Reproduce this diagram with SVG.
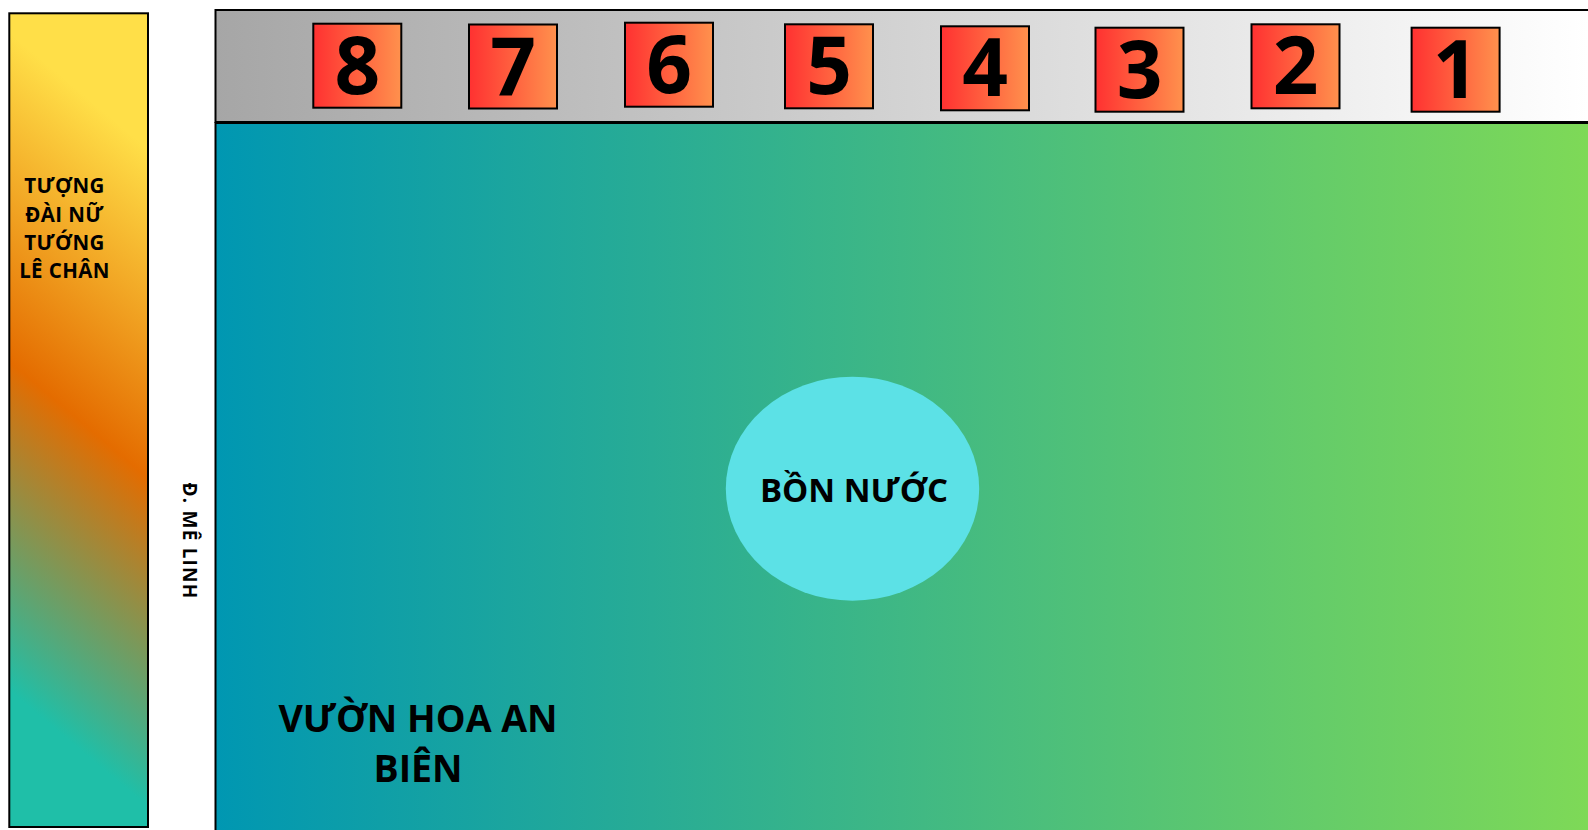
<svg xmlns="http://www.w3.org/2000/svg" width="1588" height="830" viewBox="0 0 1588 830">
  <defs>
    <linearGradient id="gLeft" gradientUnits="userSpaceOnUse" x1="241" y1="227" x2="-83" y2="613">
      <stop offset="0" stop-color="#ffdf48"/>
      <stop offset="0.5" stop-color="#e46c00"/>
      <stop offset="1" stop-color="#1fbfa8"/>
    </linearGradient>
    <linearGradient id="gBar" gradientUnits="userSpaceOnUse" x1="215" y1="0" x2="1588" y2="0">
      <stop offset="0" stop-color="#a6a6a6"/>
      <stop offset="1" stop-color="#ffffff"/>
    </linearGradient>
    <linearGradient id="gPark" gradientUnits="userSpaceOnUse" x1="215" y1="0" x2="1588" y2="0">
      <stop offset="0" stop-color="#0097b2"/>
      <stop offset="1" stop-color="#7ed957"/>
    </linearGradient>
    <linearGradient id="gBox" x1="0" y1="0" x2="1" y2="0">
      <stop offset="0" stop-color="#ff3131"/>
      <stop offset="1" stop-color="#ff914d"/>
    </linearGradient>
  </defs>
  <style>
    text { font-family: "Open Sans", "Noto Sans", "DejaVu Sans", sans-serif; font-weight: 700; fill: #000; text-anchor: middle; }
    .box { fill: url(#gBox); stroke: #000; stroke-width: 2; }
    .num { font-size: 80px; }
    .lbl { font-size: 20.5px; letter-spacing: 0.4px; }
  </style>

  <g id="tuong-dai">
    <rect x="9.3" y="13.3" width="138.7" height="813.7" fill="url(#gLeft)" stroke="#000" stroke-width="2"/>
    <text class="lbl" x="64.5" y="193.3">TƯỢNG</text>
    <text class="lbl" x="64.5" y="221.7">ĐÀI NỮ</text>
    <text class="lbl" x="64.5" y="250">TƯỚNG</text>
    <text class="lbl" x="64.5" y="278.3">LÊ CHÂN</text>
  </g>

  <g id="duong-me-linh">
    <text transform="translate(183,541) rotate(90)" x="0" y="0" style="font-size:19px;letter-spacing:1.2px">Đ. MÊ LINH</text>
  </g>

  <g id="vuon-hoa">
    <rect x="215.5" y="123" width="1400" height="800" fill="url(#gPark)" stroke="#000" stroke-width="2"/>
    <text x="418" y="731.7" style="font-size:37.5px">VƯỜN HOA AN</text>
    <text x="418" y="781.7" style="font-size:37.5px">BIÊN</text>
  </g>

  <g id="day-nha">
    <rect x="215.5" y="10" width="1400" height="112" fill="url(#gBar)" stroke="#000" stroke-width="2"/>
  </g>

  <g id="o-8"><rect class="box" x="313.3" y="23.7" width="88" height="84"/><text class="num" x="357.3" y="93.7">8</text></g>
  <g id="o-7"><rect class="box" x="469" y="24.5" width="88" height="84"/><text class="num" x="513" y="94.5">7</text></g>
  <g id="o-6"><rect class="box" x="625" y="22.7" width="88" height="84"/><text class="num" x="669" y="92.7">6</text></g>
  <g id="o-5"><rect class="box" x="785" y="24.3" width="88" height="84"/><text class="num" x="829" y="94.3">5</text></g>
  <g id="o-4"><rect class="box" x="941" y="26.3" width="88" height="84"/><text class="num" x="985" y="96.3">4</text></g>
  <g id="o-3"><rect class="box" x="1095.5" y="27.7" width="88" height="84"/><text class="num" x="1139.5" y="97.7">3</text></g>
  <g id="o-2"><rect class="box" x="1251.5" y="24.3" width="88" height="84"/><text class="num" x="1295.5" y="94.3">2</text></g>
  <g id="o-1"><rect class="box" x="1411.6" y="27.7" width="88" height="84"/><text class="num" x="1455.6" y="97.7">1</text></g>

  <g id="bon-nuoc">
    <ellipse cx="852.5" cy="488.7" rx="126.7" ry="112" fill="#5ce1e6"/>
    <text x="854" y="501.7" style="font-size:33px">BỒN NƯỚC</text>
  </g>

  <g id="connectors"/>
</svg>
